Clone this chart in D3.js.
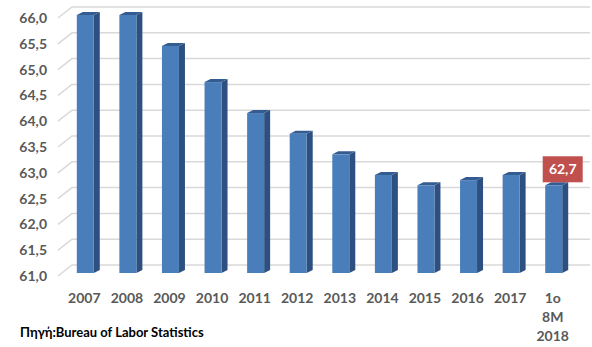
<!DOCTYPE html>
<html>
<head>
<meta charset="utf-8">
<script src="https://cdn.jsdelivr.net/npm/d3@7"></script>
<style>
  body { margin: 0; background: #fff; }
  svg text { font-family: Lato, "Noto Sans", sans-serif; font-weight: bold; }
</style>
</head>
<body>
<svg id="chart"></svg>
<script>
let w = 592;
let h = 347;

let years = ["2007", "2008", "2009", "2010", "2011", "2012", "2013", "2014", "2015", "2016", "2017", "1o|8M|2018"];
let rates = [66.0, 66.0, 65.4, 64.7, 64.1, 63.7, 63.3, 62.9, 62.7, 62.8, 62.9, 62.7];
let yTicks = [61.0, 61.5, 62.0, 62.5, 63.0, 63.5, 64.0, 64.5, 65.0, 65.5, 66.0];
let sourceText = "Πηγή:Bureau of Labor Statistics";

let dataset = years.map((d, i) => ({ year: d, value: rates[i] }));
let fmt = (v) => d3.format(".1f")(v).replace(".", ",");

let svg = d3.select("#chart").attr("width", w).attr("height", h);

let xScale = d3.scaleBand().domain(years).range([63, 574]);
let yScale = d3.scaleLinear().domain([61, 66]).range([273, 15]);

// 3d offsets
let barW = 17, sideDx = 6, sideDy = -3;

// gridlines (floor edge slant + back wall)
let grid = svg.append("g");
yTicks.forEach((v) => {
  let y = yScale(v);
  grid.append("path")
    .attr("d", `M58,${y + 3}L72,${y - 8}L590,${y - 8}`)
    .attr("fill", "none")
    .attr("stroke", "#d9d9d9")
    .attr("stroke-width", 1.5);
});

// y axis labels
let yAxis = d3.axisLeft(yScale).tickValues(yTicks).tickFormat(fmt).tickSize(0).tickPadding(0);
let yAxisGroup = svg.append("g")
  .attr("transform", "translate(47,3)")
  .call(yAxis);
yAxisGroup.select(".domain").remove();
yAxisGroup.selectAll("text")
  .attr("fill", "#595959")
  .style("font-size", "14px")
  .style("font-family", "Lato, 'Noto Sans', sans-serif");

// bars
let bars = svg.selectAll(".bar")
  .data(dataset)
  .enter()
  .append("g")
  .attr("class", "bar");

let bx = (d) => xScale(d.year) + xScale.bandwidth() / 2 - barW / 2 + 1;
let by = (d) => yScale(d.value);
let base = yScale(61);

bars.append("path")
  .attr("d", (d) => {
    let x = bx(d) + barW, y = by(d);
    return `M${x},${y}L${x + sideDx},${y + sideDy}L${x + sideDx},${base + sideDy}L${x},${base}Z`;
  })
  .attr("fill", "#2d5080");

bars.append("path")
  .attr("d", (d) => {
    let x = bx(d), y = by(d);
    return `M${x},${y}L${x + sideDx},${y + sideDy}L${x + barW + sideDx},${y + sideDy}L${x + barW},${y}Z`;
  })
  .attr("fill", "#355c90");

bars.append("rect")
  .attr("x", bx)
  .attr("y", by)
  .attr("width", barW)
  .attr("height", (d) => base - by(d))
  .attr("fill", "#4a7ebb");

// x axis labels
let xAxis = d3.axisBottom(xScale).tickSize(0).tickPadding(0).tickFormat("");
let xAxisGroup = svg.append("g")
  .attr("transform", "translate(0,303)")
  .call(xAxis);
xAxisGroup.select(".domain").remove();
xAxisGroup.selectAll(".tick").each(function (d) {
  let t = d3.select(this).append("text")
    .attr("fill", "#595959")
    .attr("text-anchor", "middle")
    .style("font-size", "14px")
    .style("font-family", "Lato, 'Noto Sans', sans-serif");
  d.split("|").forEach((line, i) => {
    t.append("tspan").attr("x", 0).attr("y", i * 19).text(line);
  });
});

// data label for the last bar
let last = dataset[dataset.length - 1];
let lx = xScale(last.year) + xScale.bandwidth() / 2 + 10;
let ly = yScale(last.value) - 16;
svg.append("rect")
  .attr("x", lx - 20)
  .attr("y", ly - 13)
  .attr("width", 40)
  .attr("height", 26)
  .attr("fill", "#c0504d");
svg.append("text")
  .attr("x", lx)
  .attr("y", ly + 5)
  .attr("text-anchor", "middle")
  .attr("fill", "#fff")
  .style("font-size", "14px")
  .text(fmt(last.value));

// source
svg.append("text")
  .attr("x", 20)
  .attr("y", 337)
  .attr("fill", "#000")
  .style("font-size", "13px")
  .text(sourceText);
</script>
</body>
</html>
